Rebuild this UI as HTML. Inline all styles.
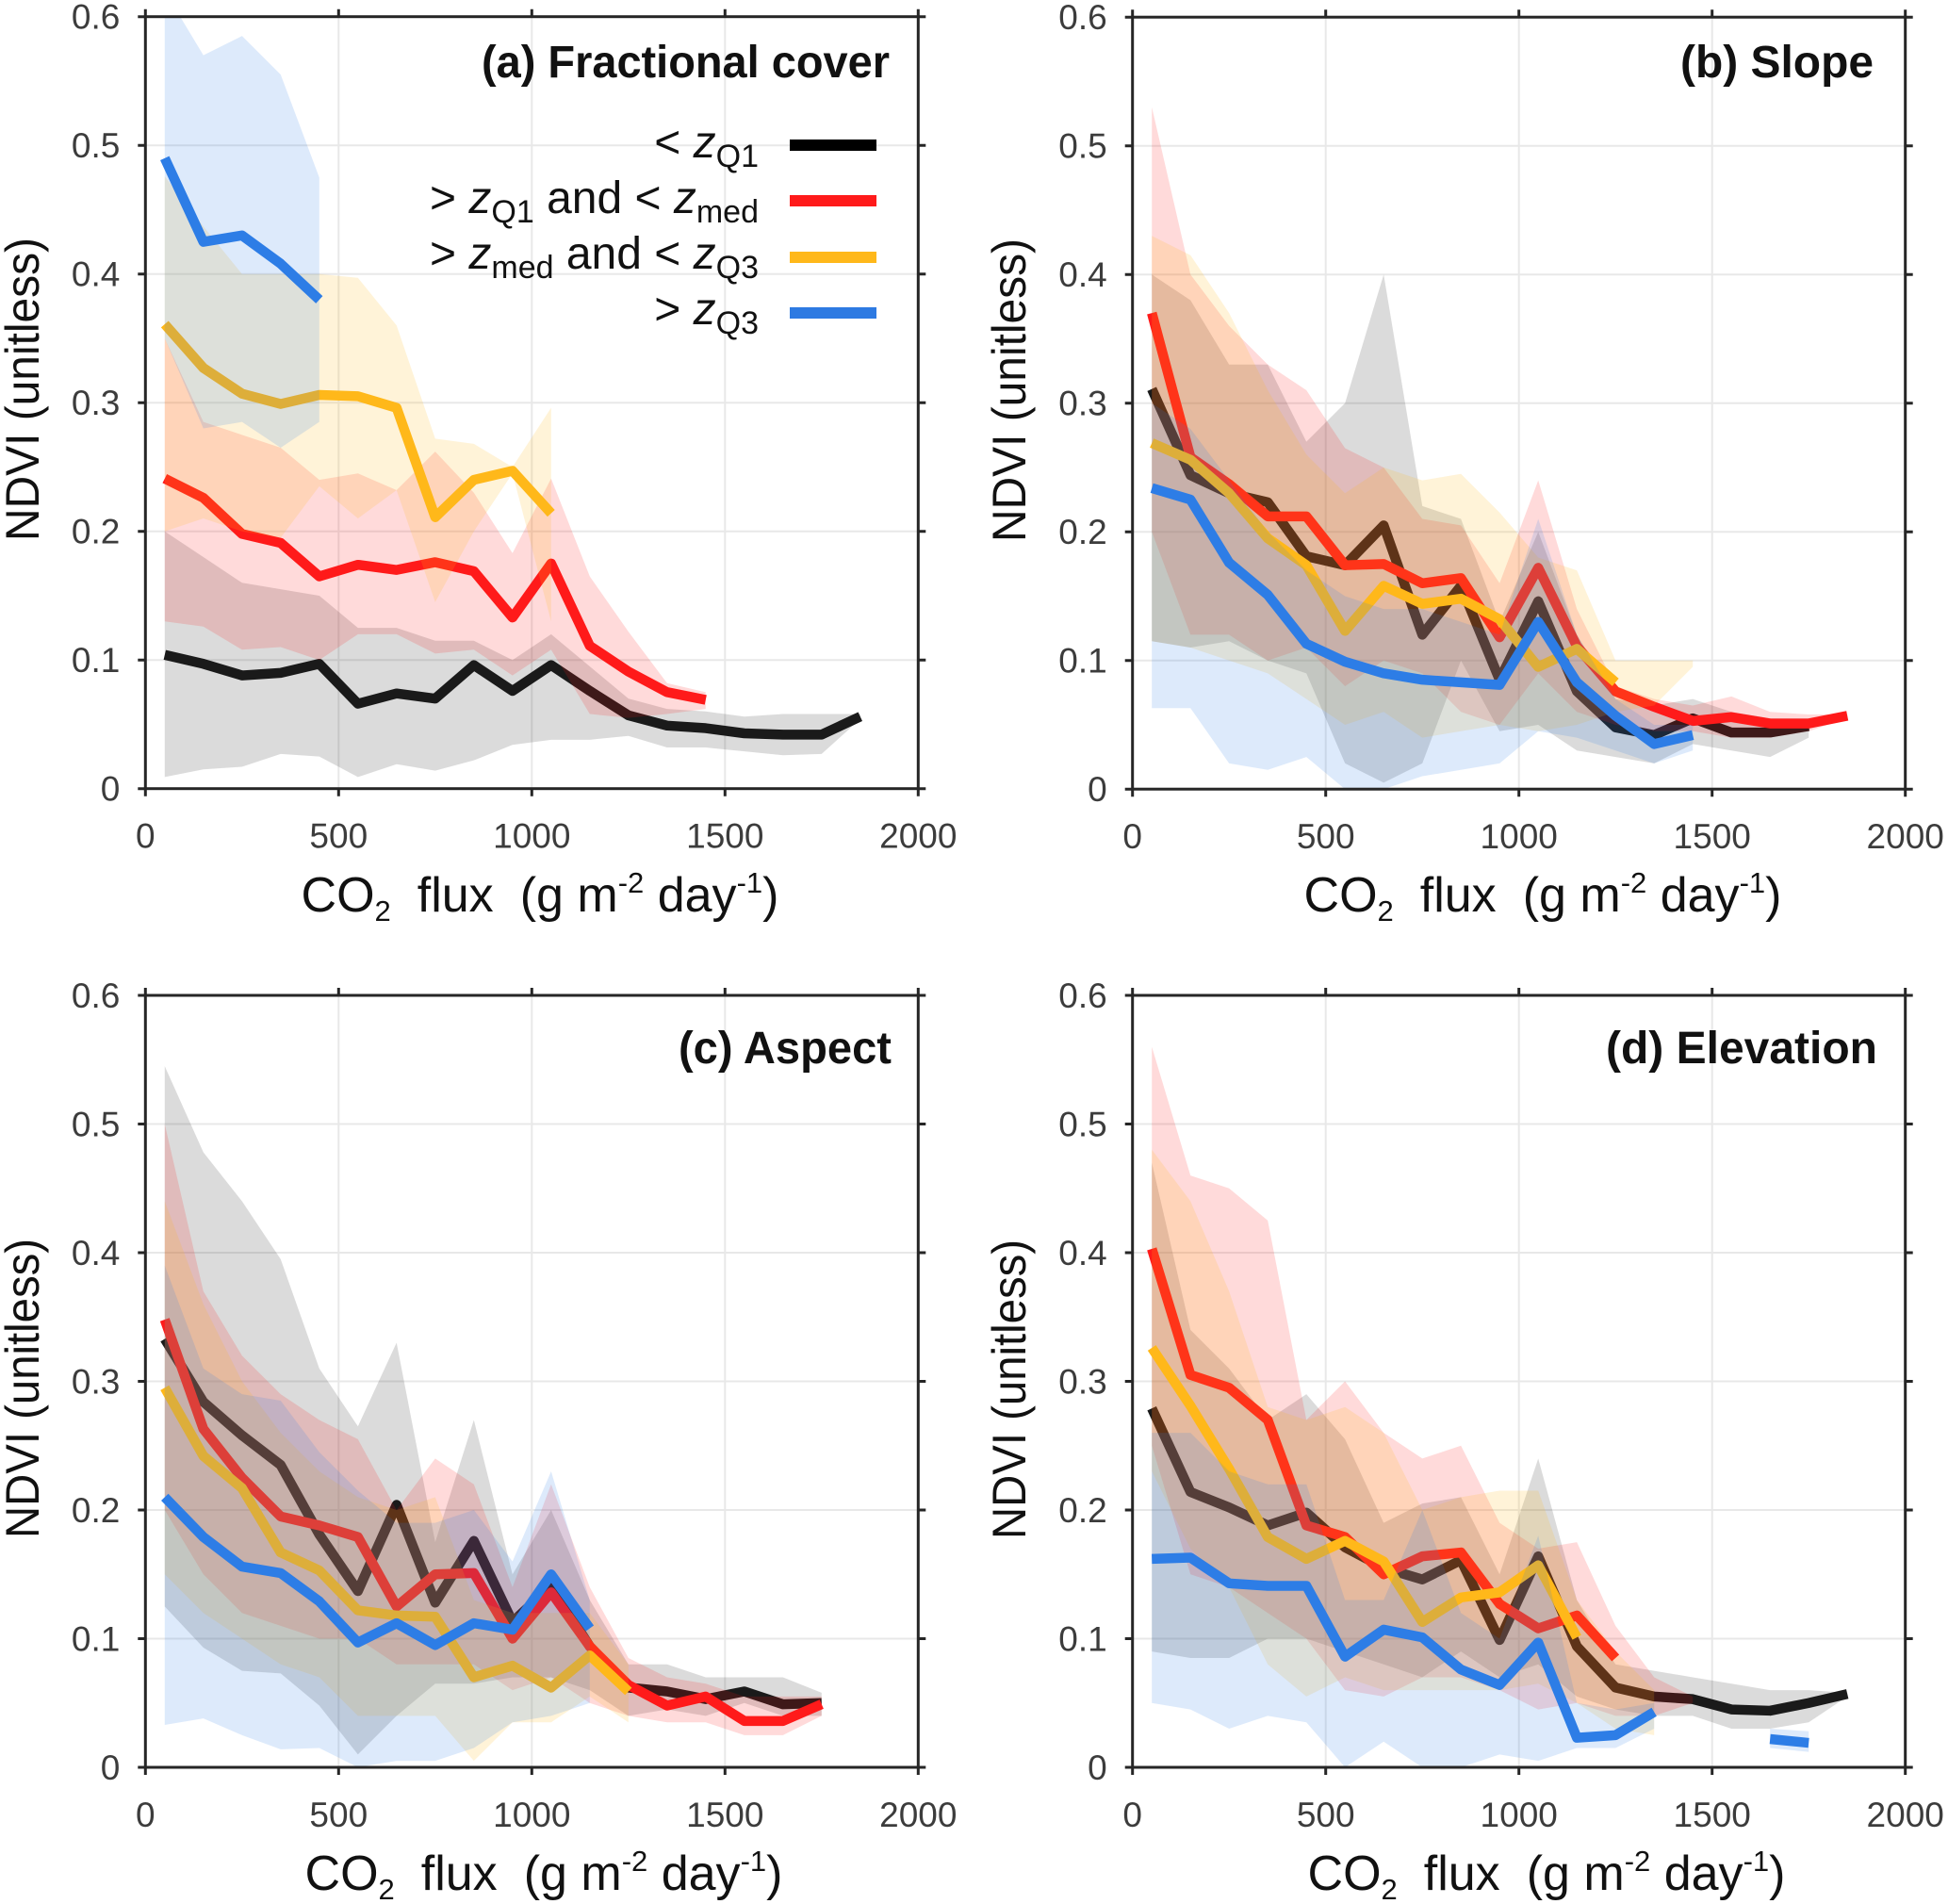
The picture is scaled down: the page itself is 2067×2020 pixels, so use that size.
<!DOCTYPE html>
<html><head><meta charset="utf-8"><style>
html,body{margin:0;padding:0;background:#fff;}
svg{display:block;}
text{font-family:"Liberation Sans",sans-serif;}
</style></head><body>
<svg width="2067" height="2020" viewBox="0 0 2067 2020" xmlns="http://www.w3.org/2000/svg">
<defs><clipPath id="cp"><rect x="0" y="0" width="2000" height="600"/></clipPath></defs>
<rect x="0" y="0" width="2067" height="2020" fill="#fff"/>

<!-- ================= PANEL A ================= -->
<g transform="translate(154.3,836.7)">
<g stroke="#e8e8e8" stroke-width="2"><path d="M205,0V-819M410,0V-819M615,0V-819M0,-136.5H820M0,-273H820M0,-409.5H820M0,-546H820M0,-682.5H820"/></g>
<g transform="scale(0.41,-1.365)" clip-path="url(#cp)">
<polygon fill="#000" fill-opacity="0.14" points="50,200 150,180 250,160 350,155 450,150 550,125 650,125 750,115 850,115 950,100 1050,120 1150,95 1250,70 1350,62 1450,60 1550,56 1650,58 1750,58 1850,58 1850,54 1750,27 1650,26 1550,29 1450,32 1350,32 1250,41 1150,38 1050,38 950,34 850,22 750,14 650,19 550,9 450,25 350,27 250,17 150,15 50,9"/>
<polyline fill="none" stroke="#1a1a1a" stroke-width="10.5" vector-effect="non-scaling-stroke" stroke-linejoin="round" points="50,104 150,97 250,88 350,90 450,97 550,66 650,74 750,70 850,96 950,76 1050,96 1150,76 1250,57 1350,49 1450,47 1550,43 1650,42 1750,42 1850,56"/>
<polygon fill="#ff1a1a" fill-opacity="0.16" points="50,350 150,285 250,275 350,265 450,240 550,245 650,232 750,262 850,230 950,183 1050,241 1150,165 1250,122 1350,82 1450,75 1450,62 1350,58 1250,55 1150,58 1050,108 950,88 850,108 750,105 650,120 550,120 450,100 350,110 250,108 150,126 50,130"/>
<polyline fill="none" stroke="#ff1a1a" stroke-width="10.5" vector-effect="non-scaling-stroke" stroke-linejoin="round" points="50,241 150,226 250,198 350,191 450,165 550,174 650,170 750,176 850,169 950,133 1050,175 1150,111 1250,91 1350,75 1450,69"/>
<polygon fill="#ffb81a" fill-opacity="0.17" points="50,476 150,437 250,400 350,400 450,400 550,397 650,360 750,272 850,268 950,250 1050,296 1050,130 950,245 850,200 750,145 650,232 550,210 450,235 350,195 250,200 150,210 50,200"/>
<polyline fill="none" stroke="#ffb81a" stroke-width="10.5" vector-effect="non-scaling-stroke" stroke-linejoin="round" points="50,361 150,327 250,307 350,299 450,306 550,305 650,296 750,211 850,240 950,247 1050,214"/>
<polygon fill="#2d7de6" fill-opacity="0.16" points="50,620 150,570 250,585 350,555 450,475 450,285 350,265 250,285 150,280 50,350"/>
<polyline fill="none" stroke="#2d7de6" stroke-width="10.5" vector-effect="non-scaling-stroke" stroke-linejoin="round" points="50,490 150,425 250,430 350,408 450,380"/>
</g>
<rect x="0" y="-819" width="820" height="819" fill="none" stroke="#262626" stroke-width="3"/>
<path stroke="#262626" stroke-width="3" fill="none" d="M0,0v8M205,0v8M410,0v8M615,0v8M820,0v8M0,-819v-8M205,-819v-8M410,-819v-8M615,-819v-8M820,-819v-8M0,0h-8M0,-136.5h-8M0,-273h-8M0,-409.5h-8M0,-546h-8M0,-682.5h-8M0,-819h-8M820,0h8M820,-136.5h8M820,-273h8M820,-409.5h8M820,-546h8M820,-682.5h8M820,-819h8"/>
<g font-size="37" fill="#3c3c3c" text-anchor="end">
<text x="-27" y="13">0</text><text x="-27" y="-123.5">0.1</text><text x="-27" y="-260">0.2</text><text x="-27" y="-396.5">0.3</text><text x="-27" y="-533">0.4</text><text x="-27" y="-669.5">0.5</text><text x="-27" y="-806">0.6</text>
</g>
<g font-size="37" fill="#3c3c3c" text-anchor="middle">
<text x="0" y="63">0</text><text x="205" y="63">500</text><text x="410" y="63">1000</text><text x="615" y="63">1500</text><text x="820" y="63">2000</text>
</g>
</g>
<text x="944" y="82" font-size="48" font-weight="bold" fill="#111" text-anchor="end" textLength="433" lengthAdjust="spacingAndGlyphs">(a) Fractional cover</text>
<text transform="translate(41,413) rotate(-90)" font-size="50" fill="#111" text-anchor="middle" textLength="322" lengthAdjust="spacingAndGlyphs">NDVI (unitless)</text>
<text x="573" y="967" font-size="52" fill="#111" text-anchor="middle">CO<tspan font-size="31" dy="10">2</tspan><tspan dy="-10" dx="28">flux</tspan><tspan dx="28">(g m</tspan><tspan font-size="31" dy="-20">-2</tspan><tspan dy="20"> day</tspan><tspan font-size="31" dy="-20">-1</tspan><tspan dy="20">)</tspan></text>
<!-- legend -->
<g stroke-width="12">
<line x1="838" y1="154" x2="930" y2="154" stroke="#000"/>
<line x1="838" y1="213" x2="930" y2="213" stroke="#ff1a1a"/>
<line x1="838" y1="273" x2="930" y2="273" stroke="#ffb81a"/>
<line x1="838" y1="332" x2="930" y2="332" stroke="#2d7ae2"/>
</g>
<g font-size="48" fill="#111" text-anchor="end">
<text x="805" y="167">&lt; <tspan font-style="italic">z</tspan><tspan font-size="34" dy="10">Q1</tspan></text>
<text x="805" y="226">&gt; <tspan font-style="italic">z</tspan><tspan font-size="34" dy="10">Q1</tspan><tspan dy="-10"> and &lt; </tspan><tspan font-style="italic">z</tspan><tspan font-size="34" dy="10">med</tspan></text>
<text x="805" y="285">&gt; <tspan font-style="italic">z</tspan><tspan font-size="34" dy="10">med</tspan><tspan dy="-10"> and &lt; </tspan><tspan font-style="italic">z</tspan><tspan font-size="34" dy="10">Q3</tspan></text>
<text x="805" y="344">&gt; <tspan font-style="italic">z</tspan><tspan font-size="34" dy="10">Q3</tspan></text>
</g>

<!-- ================= PANEL B ================= -->
<g transform="translate(1201.7,837.2)">
<g stroke="#e8e8e8" stroke-width="2"><path d="M205,0V-819M410,0V-819M615,0V-819M0,-136.5H820M0,-273H820M0,-409.5H820M0,-546H820M0,-682.5H820"/></g>
<g transform="scale(0.41,-1.365)" clip-path="url(#cp)">
<polygon fill="#000" fill-opacity="0.14" points="50,400 150,380 250,330 350,330 450,270 550,300 650,400 750,220 850,210 950,130 1050,200 1150,120 1250,70 1350,65 1450,70 1550,60 1650,55 1750,55 1750,40 1650,25 1550,30 1450,35 1350,20 1250,25 1150,30 1050,50 950,45 850,100 750,20 650,5 550,20 450,90 350,100 250,115 150,110 50,115"/>
<polyline fill="none" stroke="#1a1a1a" stroke-width="10.5" vector-effect="non-scaling-stroke" stroke-linejoin="round" points="50,311 150,244 250,230 350,223 450,181 550,174 650,205 750,120 850,158 950,85 1050,146 1150,76 1250,48 1350,42 1450,55 1550,44 1650,44 1750,49"/>
<polygon fill="#ff1a1a" fill-opacity="0.16" points="50,530 150,400 250,360 350,330 450,310 550,265 650,250 750,210 850,205 950,160 1050,240 1150,140 1250,80 1350,70 1450,65 1550,72 1650,60 1750,58 1850,58 1850,55 1750,45 1650,40 1550,40 1450,45 1350,45 1250,50 1150,60 1050,90 950,50 850,60 750,90 650,100 550,80 450,110 350,100 250,120 150,120 50,200"/>
<polyline fill="none" stroke="#ff1a1a" stroke-width="10.5" vector-effect="non-scaling-stroke" stroke-linejoin="round" points="50,370 150,258 250,237 350,212 450,212 550,174 650,175 750,160 850,164 950,118 1050,172 1150,111 1250,76 1350,64 1450,53 1550,56 1650,51 1750,51 1850,57"/>
<polygon fill="#ffb81a" fill-opacity="0.17" points="50,430 150,415 250,370 350,310 450,260 550,230 650,250 750,240 850,245 950,215 1050,180 1150,170 1250,100 1350,100 1450,100 1450,95 1350,65 1250,60 1150,50 1050,45 950,50 850,45 750,40 650,60 550,50 450,70 350,90 250,100 150,110 50,115"/>
<polyline fill="none" stroke="#ffb81a" stroke-width="10.5" vector-effect="non-scaling-stroke" stroke-linejoin="round" points="50,269 150,256 250,230 350,195 450,174 550,123 650,158 750,144 850,148 950,132 1050,95 1150,109 1250,83"/>
<polygon fill="#2d7de6" fill-opacity="0.16" points="50,300 150,280 250,240 350,200 450,170 550,150 650,140 750,140 850,130 950,120 1050,210 1150,120 1250,70 1350,50 1450,50 1450,30 1350,20 1250,30 1150,40 1050,45 950,20 850,15 750,10 650,0 550,0 450,25 350,15 250,20 150,63 50,63"/>
<polyline fill="none" stroke="#2d7de6" stroke-width="10.5" vector-effect="non-scaling-stroke" stroke-linejoin="round" points="50,234 150,225 250,176 350,151 450,113 550,99 650,90 750,85 850,83 950,81 1050,130 1150,83 1250,57 1350,35 1450,42"/>
</g>
<rect x="0" y="-819" width="820" height="819" fill="none" stroke="#262626" stroke-width="3"/>
<path stroke="#262626" stroke-width="3" fill="none" d="M0,0v8M205,0v8M410,0v8M615,0v8M820,0v8M0,-819v-8M205,-819v-8M410,-819v-8M615,-819v-8M820,-819v-8M0,0h-8M0,-136.5h-8M0,-273h-8M0,-409.5h-8M0,-546h-8M0,-682.5h-8M0,-819h-8M820,0h8M820,-136.5h8M820,-273h8M820,-409.5h8M820,-546h8M820,-682.5h8M820,-819h8"/>
<g font-size="37" fill="#3c3c3c" text-anchor="end">
<text x="-27" y="13">0</text><text x="-27" y="-123.5">0.1</text><text x="-27" y="-260">0.2</text><text x="-27" y="-396.5">0.3</text><text x="-27" y="-533">0.4</text><text x="-27" y="-669.5">0.5</text><text x="-27" y="-806">0.6</text>
</g>
<g font-size="37" fill="#3c3c3c" text-anchor="middle">
<text x="0" y="63">0</text><text x="205" y="63">500</text><text x="410" y="63">1000</text><text x="615" y="63">1500</text><text x="820" y="63">2000</text>
</g>
</g>
<text x="1988" y="82" font-size="48" font-weight="bold" fill="#111" text-anchor="end" textLength="205" lengthAdjust="spacingAndGlyphs">(b) Slope</text>
<text transform="translate(1088,414) rotate(-90)" font-size="50" fill="#111" text-anchor="middle" textLength="322" lengthAdjust="spacingAndGlyphs">NDVI (unitless)</text>
<text x="1637" y="967" font-size="52" fill="#111" text-anchor="middle">CO<tspan font-size="31" dy="10">2</tspan><tspan dy="-10" dx="28">flux</tspan><tspan dx="28">(g m</tspan><tspan font-size="31" dy="-20">-2</tspan><tspan dy="20"> day</tspan><tspan font-size="31" dy="-20">-1</tspan><tspan dy="20">)</tspan></text>

<!-- ================= PANEL C ================= -->
<g transform="translate(154.3,1875)">
<g stroke="#e8e8e8" stroke-width="2"><path d="M205,0V-819M410,0V-819M615,0V-819M0,-136.5H820M0,-273H820M0,-409.5H820M0,-546H820M0,-682.5H820"/></g>
<g transform="scale(0.41,-1.365)" clip-path="url(#cp)">
<polygon fill="#000" fill-opacity="0.14" points="50,545 150,478 250,440 350,395 450,310 550,265 650,330 750,175 850,270 950,150 1050,200 1150,130 1250,80 1350,80 1450,70 1550,70 1650,70 1750,58 1750,40 1650,40 1550,50 1450,40 1350,45 1250,40 1150,60 1050,70 950,70 850,65 750,65 650,40 550,10 450,48 350,73 250,75 150,93 50,125"/>
<polyline fill="none" stroke="#1a1a1a" stroke-width="10.5" vector-effect="non-scaling-stroke" stroke-linejoin="round" points="50,333 150,284 250,258 350,235 450,181 550,137 650,204 750,128 850,176 950,113 1050,141 1150,94 1250,62 1350,59 1450,53 1550,59 1650,49 1750,50"/>
<polygon fill="#ff1a1a" fill-opacity="0.16" points="50,500 150,370 250,320 350,290 450,270 550,255 650,200 750,240 850,220 950,140 1050,220 1150,140 1250,85 1350,70 1450,65 1550,55 1650,55 1750,55 1750,40 1650,25 1550,25 1450,35 1350,35 1250,40 1150,50 1050,70 950,60 850,80 750,80 650,80 550,100 450,100 350,110 250,120 150,150 50,200"/>
<polyline fill="none" stroke="#ff1a1a" stroke-width="10.5" vector-effect="non-scaling-stroke" stroke-linejoin="round" points="50,348 150,263 250,225 350,195 450,188 550,179 650,125 750,150 850,151 950,100 1050,136 1150,94 1250,64 1350,48 1450,55 1550,36 1650,36 1750,49"/>
<polygon fill="#ffb81a" fill-opacity="0.17" points="50,440 150,360 250,300 350,260 450,230 550,210 650,200 750,210 850,130 950,120 1050,120 1150,120 1250,80 1250,35 1150,55 1050,35 950,35 850,5 750,40 650,40 550,40 450,70 350,80 250,100 150,120 50,150"/>
<polyline fill="none" stroke="#ffb81a" stroke-width="10.5" vector-effect="non-scaling-stroke" stroke-linejoin="round" points="50,295 150,242 250,217 350,167 450,153 550,122 650,118 750,117 850,70 950,79 1050,62 1150,87 1250,59"/>
<polygon fill="#2d7de6" fill-opacity="0.16" points="50,390 150,310 250,290 350,285 450,245 550,215 650,190 750,190 850,200 950,160 1050,230 1150,130 1150,50 1050,40 950,35 850,15 750,5 650,5 550,0 450,15 350,14 250,25 150,38 50,33"/>
<polyline fill="none" stroke="#2d7de6" stroke-width="10.5" vector-effect="non-scaling-stroke" stroke-linejoin="round" points="50,210 150,179 250,156 350,151 450,129 550,97 650,112 750,95 850,112 950,107 1050,150 1150,108"/>
</g>
<rect x="0" y="-819" width="820" height="819" fill="none" stroke="#262626" stroke-width="3"/>
<path stroke="#262626" stroke-width="3" fill="none" d="M0,0v8M205,0v8M410,0v8M615,0v8M820,0v8M0,-819v-8M205,-819v-8M410,-819v-8M615,-819v-8M820,-819v-8M0,0h-8M0,-136.5h-8M0,-273h-8M0,-409.5h-8M0,-546h-8M0,-682.5h-8M0,-819h-8M820,0h8M820,-136.5h8M820,-273h8M820,-409.5h8M820,-546h8M820,-682.5h8M820,-819h8"/>
<g font-size="37" fill="#3c3c3c" text-anchor="end">
<text x="-27" y="13">0</text><text x="-27" y="-123.5">0.1</text><text x="-27" y="-260">0.2</text><text x="-27" y="-396.5">0.3</text><text x="-27" y="-533">0.4</text><text x="-27" y="-669.5">0.5</text><text x="-27" y="-806">0.6</text>
</g>
<g font-size="37" fill="#3c3c3c" text-anchor="middle">
<text x="0" y="63">0</text><text x="205" y="63">500</text><text x="410" y="63">1000</text><text x="615" y="63">1500</text><text x="820" y="63">2000</text>
</g>
</g>
<text x="946" y="1128" font-size="48" font-weight="bold" fill="#111" text-anchor="end" textLength="226" lengthAdjust="spacingAndGlyphs">(c) Aspect</text>
<text transform="translate(41,1473) rotate(-90)" font-size="50" fill="#111" text-anchor="middle" textLength="318" lengthAdjust="spacingAndGlyphs">NDVI (unitless)</text>
<text x="577" y="2005" font-size="52" fill="#111" text-anchor="middle">CO<tspan font-size="31" dy="10">2</tspan><tspan dy="-10" dx="28">flux</tspan><tspan dx="28">(g m</tspan><tspan font-size="31" dy="-20">-2</tspan><tspan dy="20"> day</tspan><tspan font-size="31" dy="-20">-1</tspan><tspan dy="20">)</tspan></text>

<!-- ================= PANEL D ================= -->
<g transform="translate(1201.7,1875)">
<g stroke="#e8e8e8" stroke-width="2"><path d="M205,0V-819M410,0V-819M615,0V-819M0,-136.5H820M0,-273H820M0,-409.5H820M0,-546H820M0,-682.5H820"/></g>
<g transform="scale(0.41,-1.365)" clip-path="url(#cp)">
<polygon fill="#000" fill-opacity="0.14" points="50,470 150,340 250,310 350,270 450,290 550,255 650,190 750,205 850,210 950,150 1050,240 1150,130 1250,80 1350,75 1450,70 1550,65 1650,60 1750,60 1850,58 1850,55 1750,35 1650,30 1550,30 1450,40 1350,40 1250,45 1150,55 1050,80 950,70 850,90 750,70 650,80 550,90 450,100 350,100 250,85 150,85 50,90"/>
<polyline fill="none" stroke="#1a1a1a" stroke-width="10.5" vector-effect="non-scaling-stroke" stroke-linejoin="round" points="50,279 150,214 250,202 350,188 450,198 550,171 650,155 750,146 850,161 950,99 1050,164 1150,94 1250,62 1350,55 1450,53 1550,45 1650,44 1750,50 1850,57"/>
<polygon fill="#ff1a1a" fill-opacity="0.16" points="50,560 150,460 250,450 350,425 450,270 550,300 650,260 750,240 850,250 950,190 1050,170 1150,175 1250,110 1350,70 1450,55 1450,50 1350,40 1250,40 1150,50 1050,45 950,60 850,70 750,70 650,55 550,60 450,100 350,120 250,140 150,150 50,250"/>
<polyline fill="none" stroke="#ff1a1a" stroke-width="10.5" vector-effect="non-scaling-stroke" stroke-linejoin="round" points="50,403 150,305 250,295 350,270 450,188 550,179 650,150 750,164 850,167 950,127 1050,108 1150,118 1250,85"/>
<polygon fill="#ffb81a" fill-opacity="0.17" points="50,480 150,440 250,370 350,280 450,270 550,280 650,260 750,200 850,210 950,215 1050,215 1150,130 1250,90 1350,60 1350,25 1250,30 1150,50 1050,65 950,60 850,60 750,60 650,60 550,70 450,55 350,80 250,140 150,170 50,230"/>
<polyline fill="none" stroke="#ffb81a" stroke-width="10.5" vector-effect="non-scaling-stroke" stroke-linejoin="round" points="50,326 150,281 250,232 350,179 450,162 550,176 650,160 750,113 850,132 950,136 1050,157 1150,101"/>
<polygon fill="#2d7de6" fill-opacity="0.16" points="50,260 150,260 250,230 350,220 450,220 550,130 650,130 750,200 850,120 950,100 1050,180 1150,50 1250,45 1350,50 1350,30 1250,15 1150,15 1050,5 950,10 850,0 750,0 650,20 550,0 450,35 350,40 250,30 150,45 50,50"/>
<polygon fill="#2d7de6" fill-opacity="0.16" points="1650,30 1750,28 1750,12 1650,15"/>
<polyline fill="none" stroke="#2d7de6" stroke-width="10.5" vector-effect="non-scaling-stroke" stroke-linejoin="round" points="50,162 150,163 250,143 350,141 450,141 550,86 650,107 750,101 850,76 950,64 1050,97 1150,23 1250,25 1350,43"/>
<polyline fill="none" stroke="#2d7de6" stroke-width="10.5" vector-effect="non-scaling-stroke" stroke-linejoin="round" points="1650,22 1750,19"/>
</g>
<rect x="0" y="-819" width="820" height="819" fill="none" stroke="#262626" stroke-width="3"/>
<path stroke="#262626" stroke-width="3" fill="none" d="M0,0v8M205,0v8M410,0v8M615,0v8M820,0v8M0,-819v-8M205,-819v-8M410,-819v-8M615,-819v-8M820,-819v-8M0,0h-8M0,-136.5h-8M0,-273h-8M0,-409.5h-8M0,-546h-8M0,-682.5h-8M0,-819h-8M820,0h8M820,-136.5h8M820,-273h8M820,-409.5h8M820,-546h8M820,-682.5h8M820,-819h8"/>
<g font-size="37" fill="#3c3c3c" text-anchor="end">
<text x="-27" y="13">0</text><text x="-27" y="-123.5">0.1</text><text x="-27" y="-260">0.2</text><text x="-27" y="-396.5">0.3</text><text x="-27" y="-533">0.4</text><text x="-27" y="-669.5">0.5</text><text x="-27" y="-806">0.6</text>
</g>
<g font-size="37" fill="#3c3c3c" text-anchor="middle">
<text x="0" y="63">0</text><text x="205" y="63">500</text><text x="410" y="63">1000</text><text x="615" y="63">1500</text><text x="820" y="63">2000</text>
</g>
</g>
<text x="1992" y="1128" font-size="48" font-weight="bold" fill="#111" text-anchor="end" textLength="288" lengthAdjust="spacingAndGlyphs">(d) Elevation</text>
<text transform="translate(1088,1474) rotate(-90)" font-size="50" fill="#111" text-anchor="middle" textLength="318" lengthAdjust="spacingAndGlyphs">NDVI (unitless)</text>
<text x="1641" y="2005" font-size="52" fill="#111" text-anchor="middle">CO<tspan font-size="31" dy="10">2</tspan><tspan dy="-10" dx="28">flux</tspan><tspan dx="28">(g m</tspan><tspan font-size="31" dy="-20">-2</tspan><tspan dy="20"> day</tspan><tspan font-size="31" dy="-20">-1</tspan><tspan dy="20">)</tspan></text>
</svg>
</body></html>
